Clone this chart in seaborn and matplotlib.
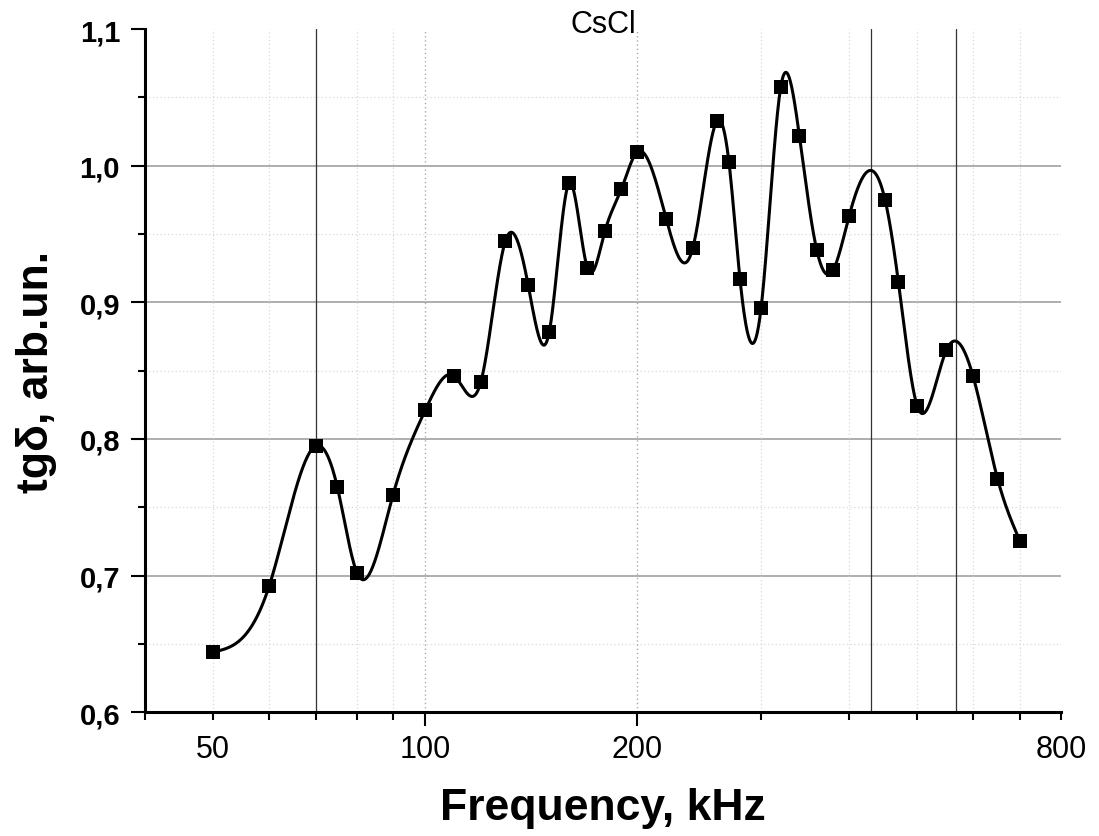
import numpy as np
import pandas as pd
import matplotlib
matplotlib.use("Agg")
import matplotlib.pyplot as plt
from matplotlib.ticker import FixedLocator, FuncFormatter
import seaborn as sns

# ---- data ----
freq_khz = [50, 60, 70, 75, 80, 90, 100, 110, 120, 130, 140, 150, 160, 170, 180,
            190, 200, 220, 240, 260, 270, 280, 300, 320, 340, 360, 380, 400, 450,
            470, 500, 550, 600, 650, 700]
tg_delta = [0.644, 0.692, 0.795, 0.765, 0.702, 0.759, 0.821, 0.846, 0.842, 0.945,
            0.913, 0.878, 0.987, 0.925, 0.952, 0.983, 1.010, 0.961, 0.940, 1.033,
            1.003, 0.917, 0.896, 1.058, 1.022, 0.938, 0.924, 0.963, 0.975, 0.915,
            0.824, 0.865, 0.846, 0.771, 0.725]
marker_lines_khz = [70, 430, 567]
x_major_ticks = [100, 200]
x_minor_ticks = [40, 50, 60, 70, 80, 90, 300, 400, 500, 600, 700, 800]
x_labeled_minor = [50, 800]
y_ticks = [0.6, 0.7, 0.8, 0.9, 1.0, 1.1]
y_minor_ticks = [0.65, 0.75, 0.85, 0.95, 1.05]
title_text = "CsCl"
x_label = "Frequency, kHz"
y_label = "tg\u03b4, arb.un."


def natural_spline(x, y, n=2000):
    """Natural cubic spline (connection line style) evaluated on a fine grid."""
    x = np.asarray(x, float)
    y = np.asarray(y, float)
    m = len(x)
    h = np.diff(x)
    A = np.zeros((m, m))
    b = np.zeros(m)
    A[0, 0] = 1
    A[-1, -1] = 1
    for i in range(1, m - 1):
        A[i, i - 1] = h[i - 1]
        A[i, i] = 2 * (h[i - 1] + h[i])
        A[i, i + 1] = h[i]
        b[i] = 3 * ((y[i + 1] - y[i]) / h[i] - (y[i] - y[i - 1]) / h[i - 1])
    c = np.linalg.solve(A, b)
    xs = np.linspace(x[0], x[-1], n)
    idx = np.clip(np.searchsorted(x, xs) - 1, 0, m - 2)
    dx = xs - x[idx]
    hi = h[idx]
    bi = (y[idx + 1] - y[idx]) / hi - hi * (2 * c[idx] + c[idx + 1]) / 3
    di = (c[idx + 1] - c[idx]) / (3 * hi)
    ys = y[idx] + bi * dx + c[idx] * dx ** 2 + di * dx ** 3
    return xs, ys


sns.set_theme(style="white")
plt.rcParams['font.family'] = ['Liberation Sans', 'DejaVu Sans']
plt.rcParams['text.color'] = 'black'
plt.rcParams['axes.labelcolor'] = 'black'
plt.rcParams['xtick.color'] = 'black'
plt.rcParams['ytick.color'] = 'black'

fig = plt.figure(figsize=(10.99, 8.37), dpi=100)
ax = fig.add_axes([0.132, 0.148, 0.8334, 0.816])

lx = np.log10(freq_khz)
sx, sy = natural_spline(lx, tg_delta)
curve = pd.DataFrame({"f": 10 ** sx, "tg": sy})
pts = pd.DataFrame({"f": freq_khz, "tg": tg_delta})

ax.set_xscale("log")
ax.set_xlim(40, 800)
ax.set_ylim(0.6, 1.1)

# grid
for yv in y_ticks[1:-1]:
    ax.axhline(yv, color="#999999", lw=1.1, zorder=0)
for yv in y_minor_ticks:
    ax.axhline(yv, color="#d8d8d8", lw=0.9, ls=(0, (1, 2)), zorder=0)
for xv in x_minor_ticks[1:-1]:
    ax.axvline(xv, color="#d8d8d8", lw=0.9, ls=(0, (1, 2)), zorder=0)
for xv in x_major_ticks:
    ax.axvline(xv, color="#aaaaaa", lw=1.0, ls=(0, (1, 2)), zorder=0)
for xv in marker_lines_khz:
    ax.axvline(xv, color="#333333", lw=0.9, zorder=1)

sns.lineplot(data=curve, x="f", y="tg", ax=ax, color="black", lw=2.2,
             zorder=3, sort=False, estimator=None)
sns.scatterplot(data=pts, x="f", y="tg", ax=ax, marker="s", s=105,
                color="black", edgecolor="black", linewidth=0, zorder=4)

# ticks
ax.xaxis.set_major_locator(FixedLocator(x_major_ticks))
ax.xaxis.set_minor_locator(FixedLocator(x_minor_ticks))
ax.xaxis.set_major_formatter(FuncFormatter(lambda v, p: f"{v:g}"))
ax.xaxis.set_minor_formatter(
    FuncFormatter(lambda v, p: f"{v:g}" if any(abs(v - t) < 1e-6 for t in x_labeled_minor) else ""))
ax.yaxis.set_major_locator(FixedLocator(y_ticks))
ax.yaxis.set_minor_locator(FixedLocator(y_minor_ticks))
ax.yaxis.set_major_formatter(FuncFormatter(lambda v, p: f"{v:.1f}".replace(".", ",")))

ax.tick_params(axis="x", which="major", direction="out", length=10, width=1.5,
               labelsize=22, pad=6, bottom=True, color="black", labelcolor="black")
ax.tick_params(axis="x", which="minor", direction="out", length=5.5, width=1.5,
               labelsize=22, pad=10.5, bottom=True, color="black", labelcolor="black")
ax.tick_params(axis="y", which="major", direction="out", length=10, width=1.5,
               labelsize=21, pad=8, left=True, color="black", labelcolor="black")
ax.tick_params(axis="y", which="minor", direction="out", length=5, width=1.5,
               left=True, color="black")
for lab in ax.get_yticklabels():
    lab.set_fontweight("bold")

for side in ["top", "right"]:
    ax.spines[side].set_visible(False)
for side in ["left", "bottom"]:
    ax.spines[side].set_linewidth(2.2)
    ax.spines[side].set_color("black")

ax.set_xlabel(x_label, fontsize=32, fontweight="bold", labelpad=16, color="black")
ax.set_ylabel(y_label, fontsize=32, fontweight="bold", labelpad=16, color="black")
ax.text(0.5, 0.985, title_text, transform=ax.transAxes, ha="center",
        va="bottom", fontsize=22, color="black")

fig.savefig("out.png", dpi=100)
